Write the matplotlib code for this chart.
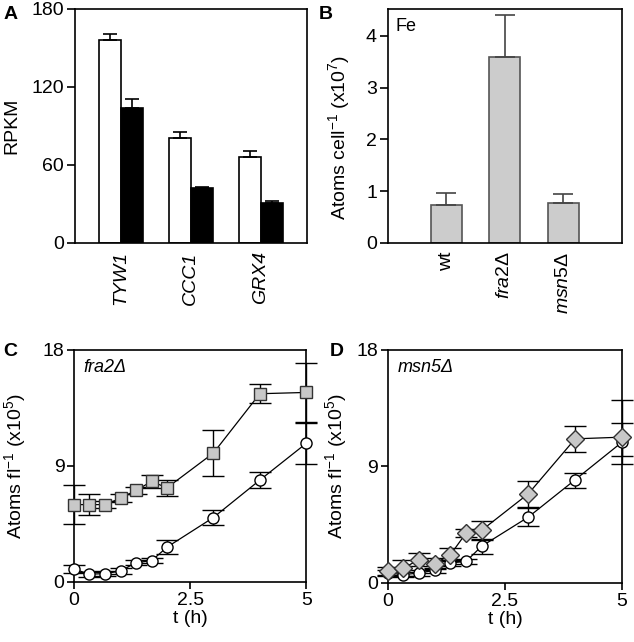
import numpy as np
import matplotlib
matplotlib.use("Agg")
import matplotlib.pyplot as plt

plt.rcParams['font.family'] = ['Liberation Sans', 'DejaVu Sans']
plt.rcParams['mathtext.fontset'] = 'custom'
plt.rcParams['mathtext.rm'] = 'Liberation Sans'
plt.rcParams['mathtext.it'] = 'Liberation Sans:italic'
plt.rcParams['axes.linewidth'] = 1.2

# panel A: RPKM
genes = ["TYW1", "CCC1", "GRX4"]
rpkm_white = [156, 81, 66]
rpkm_white_err = [5, 4, 5]
rpkm_black = [104, 42, 31]
rpkm_black_err = [7, 1, 1]

# panel B: Fe atoms per cell (x10^7)
strains = ["wt", r"$\mathit{fra2}$Δ", r"$\mathit{msn5}$Δ"]
fe_cell = [0.74, 3.59, 0.78]
fe_cell_err = [0.23, 0.82, 0.17]

# panels C/D: atoms per fl (x10^5) over time
t = [0, 0.33, 0.67, 1.0, 1.33, 1.67, 2.0, 3.0, 4.0, 5.0]
wt_c = [1.0, 0.6, 0.65, 0.85, 1.5, 1.65, 2.7, 5.0, 7.9, 10.75]
wt_c_err = [0.3, 0.2, 0.2, 0.2, 0.2, 0.2, 0.55, 0.6, 0.6, 1.6]
fra2 = [6.0, 6.0, 6.0, 6.5, 7.1, 7.8, 7.3, 10.0, 14.6, 14.7]
fra2_err = [1.5, 0.8, 0.3, 0.3, 0.3, 0.5, 0.6, 1.75, 0.75, 2.3]

wt_d = [0.77, 0.64, 0.77, 0.98, 1.54, 1.67, 2.83, 5.09, 7.97, 10.87]
wt_d_lo = [0.2, 0.2, 0.2, 0.2, 0.2, 0.2, 0.6, 0.7, 0.6, 1.7]
wt_d_hi = [0.2, 0.2, 0.2, 0.2, 0.2, 0.2, 0.5, 0.7, 0.5, 1.45]
msn5 = [0.9, 1.16, 1.8, 1.5, 2.16, 3.86, 4.06, 6.89, 11.13, 11.26]
msn5_lo = [0.3, 0.6, 0.5, 0.4, 0.5, 0.3, 0.7, 1.0, 1.0, 1.44]
msn5_hi = [0.3, 0.6, 0.5, 0.4, 0.5, 0.3, 0.7, 1.0, 1.0, 2.84]

fig = plt.figure(figsize=(6.34, 6.42), dpi=100)
FS = 14

def style(ax):
    ax.tick_params(axis='y', direction='out', length=6, width=1.2, labelsize=FS, pad=2)
    ax.tick_params(axis='x', direction='out', length=0, width=1.2, labelsize=FS, pad=6)

# A
axA = fig.add_axes([0.118, 0.6215, 0.366, 0.3645])
x = np.arange(len(genes))
w = 0.31
axA.bar(x - w / 2, rpkm_white, w, color='white', edgecolor='black', linewidth=1.2,
        yerr=[np.zeros(3), rpkm_white_err], error_kw=dict(ecolor='black', elinewidth=1.2, capsize=5, capthick=1.2))
axA.bar(x + w / 2, rpkm_black, w, color='black', edgecolor='black', linewidth=1.2,
        yerr=[np.zeros(3), rpkm_black_err], error_kw=dict(ecolor='black', elinewidth=1.2, capsize=5, capthick=1.2))
axA.set_xlim(-0.657, 2.657)
axA.set_ylim(0, 180)
axA.set_yticks([0, 60, 120, 180])
axA.set_xticks(x)
axA.set_xticklabels(genes, rotation=90, style='italic', va='top')
style(axA)
axA.set_ylabel("RPKM", fontsize=FS)
axA.yaxis.set_label_coords(-0.235, 0.5)

# B
axB = fig.add_axes([0.612, 0.6215, 0.369, 0.3645])
xb = np.arange(len(strains))
axB.bar(xb, fe_cell, 0.53, color='#cccccc', edgecolor='#555555', linewidth=1.2,
        yerr=[np.zeros(3), fe_cell_err], error_kw=dict(ecolor='#444444', elinewidth=1.2, capsize=7, capthick=1.2))
axB.set_xlim(-1, 3)
axB.set_ylim(0, 4.52)
axB.set_yticks([0, 1, 2, 3, 4])
axB.set_xticks(xb)
axB.set_xticklabels(strains, rotation=90, va='top')
style(axB)
axB.set_ylabel(r"Atoms cell$^{\mathrm{-1}}$ (x10$^{\mathrm{7}}$)", fontsize=FS)
axB.yaxis.set_label_coords(-0.155, 0.45)
axB.text(0.03, 0.96, "Fe", transform=axB.transAxes, fontsize=13, va='top', ha='left')

def time_panel(ax, wt_vals, wt_err, mut_vals, mut_err, marker, label):
    ax.errorbar(t, wt_vals, yerr=wt_err, fmt='none', ecolor='black', elinewidth=1.0,
                capsize=8, capthick=1.0, clip_on=False, zorder=2)
    ax.errorbar(t, mut_vals, yerr=mut_err, fmt='none', ecolor='black', elinewidth=1.0,
                capsize=8, capthick=1.0, clip_on=False, zorder=2)
    ax.plot(t, wt_vals, '-', color='black', linewidth=0.9, marker='o', markersize=8,
            markerfacecolor='white', markeredgecolor='black', markeredgewidth=1.0, clip_on=False, zorder=3)
    ax.plot(t, mut_vals, '-', color='black', linewidth=0.9, marker=marker,
            markersize=8 if marker == 's' else 9, markerfacecolor='#c8c8c8',
            markeredgecolor='#333333', markeredgewidth=1.0, clip_on=False, zorder=3)
    ax.set_xlim(0, 5)
    ax.set_ylim(0, 18)
    ax.set_xticks([0, 2.5, 5])
    ax.set_xticklabels(["0", "2.5", "5"])
    ax.set_yticks([0, 9, 18])
    ax.tick_params(axis='both', direction='out', length=5, width=1.2, labelsize=FS, pad=2)
    ax.set_xlabel("t (h)", fontsize=FS, labelpad=1)
    ax.set_ylabel(r"Atoms fl$^{\mathrm{-1}}$ (x10$^{\mathrm{5}}$)", fontsize=FS)
    ax.text(0.04, 0.96, label, transform=ax.transAxes, fontsize=13, style='italic', va='top', ha='left')

axC = fig.add_axes([0.117, 0.0935, 0.366, 0.3615])
time_panel(axC, wt_c, wt_c_err, fra2, fra2_err, 's', "fra2Δ")
axC.yaxis.set_label_coords(-0.2, 0.5)

axD = fig.add_axes([0.612, 0.092, 0.369, 0.363])
time_panel(axD, wt_d, [wt_d_lo, wt_d_hi], msn5, [msn5_lo, msn5_hi], 'D', "msn5Δ")
axD.yaxis.set_label_coords(-0.165, 0.5)

for lab, xx, yy in [("A", 0.005, 0.99), ("B", 0.503, 0.99), ("C", 0.005, 0.466), ("D", 0.52, 0.466)]:
    fig.text(xx, yy, lab, fontsize=14, fontweight='bold', va='top', ha='left')

fig.savefig("out.png", dpi=100)
